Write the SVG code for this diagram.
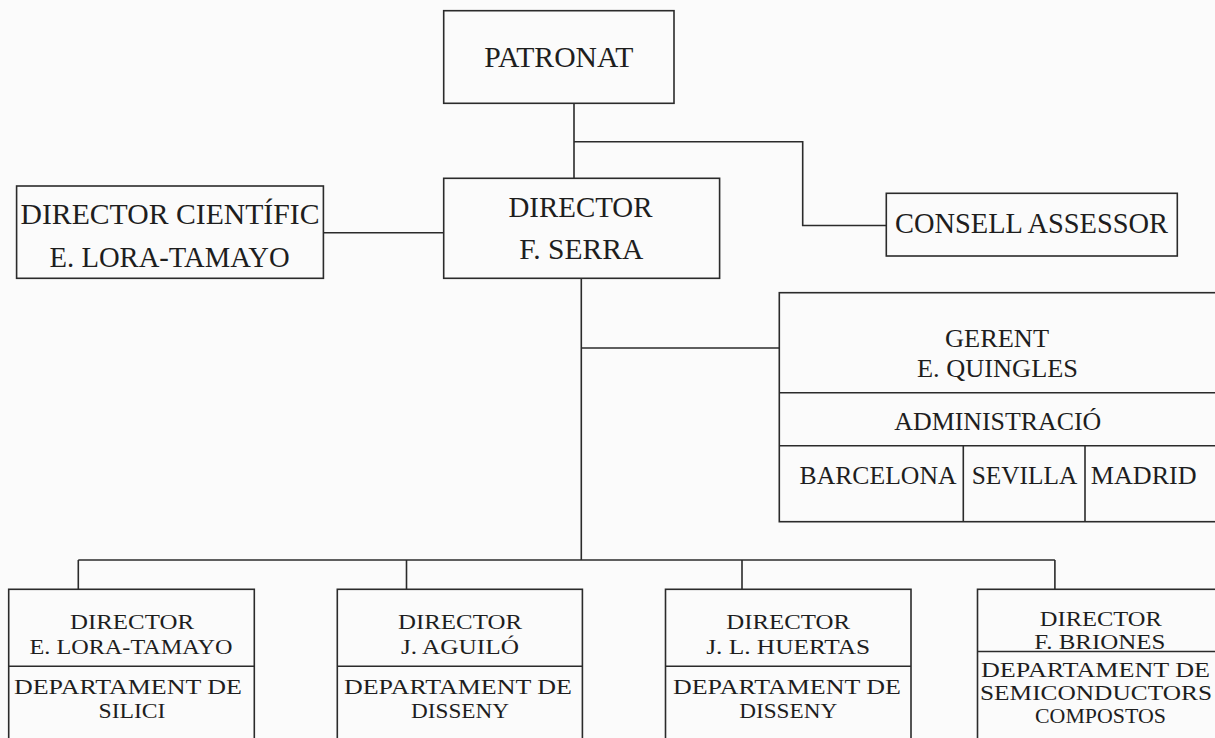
<svg xmlns="http://www.w3.org/2000/svg" width="1215" height="738" viewBox="0 0 1215 738">
<style>
.bx{fill:none;stroke:#2b2b2b;stroke-width:1.6}
.ln{fill:none;stroke:#2b2b2b;stroke-width:1.6}
text{font-family:"Liberation Serif","DejaVu Serif","Times New Roman",serif;fill:#1e1e1e;text-anchor:middle}
.t1{font-size:29px}
.t2{font-size:25px}
.t3{font-size:22px}
.t4{font-size:21px}
</style>
<rect width="1215" height="738" fill="#fbfbfb"/>
<g id="connectors">
<path class="ln" d="M574,103 V178"/>
<path class="ln" d="M574,141.7 H802.7 V225.5 H886.3"/>
<path class="ln" d="M323.4,232.7 H443.7"/>
<path class="ln" d="M581.3,278.3 V560"/>
<path class="ln" d="M581.3,348 H779.3"/>
<path class="ln" d="M78.3,560 H1054.9"/>
<path class="ln" d="M78.3,560 V589.3 M406.5,560 V589.3 M742,560 V589.3 M1054.9,560 V589.3"/>
</g>
<g id="patronat">
<rect class="bx" x="443.7" y="10.7" width="230.3" height="92.6"/>
<text class="t1" x="558.8" y="67" textLength="149" lengthAdjust="spacingAndGlyphs">PATRONAT</text>
</g>
<g id="director-cientific">
<rect class="bx" x="16.6" y="186" width="306.8" height="92.3"/>
<text class="t1" x="170" y="224" textLength="299" lengthAdjust="spacingAndGlyphs">DIRECTOR CIENTÍFIC</text>
<text class="t1" x="169.6" y="266.7" textLength="240" lengthAdjust="spacingAndGlyphs">E. LORA-TAMAYO</text>
</g>
<g id="director">
<rect class="bx" x="443.7" y="178.3" width="275.9" height="100"/>
<text class="t1" x="580.5" y="216.7" textLength="144" lengthAdjust="spacingAndGlyphs">DIRECTOR</text>
<text class="t1" x="581.3" y="259.3" textLength="124" lengthAdjust="spacingAndGlyphs">F. SERRA</text>
</g>
<g id="consell">
<rect class="bx" x="886.3" y="193.3" width="291" height="62.7"/>
<text class="t1" x="1031.5" y="233.3" textLength="273" lengthAdjust="spacingAndGlyphs">CONSELL ASSESSOR</text>
</g>
<g id="gerent">
<rect class="bx" x="779.3" y="292.7" width="440" height="229"/>
<path class="ln" d="M779.3,392.7 H1216 M779.3,445.7 H1216 M963.3,445.7 V521.7 M1085,445.7 V521.7"/>
<text class="t2" x="997" y="346.7" textLength="104" lengthAdjust="spacingAndGlyphs">GERENT</text>
<text class="t2" x="997.5" y="376.7" textLength="161" lengthAdjust="spacingAndGlyphs">E. QUINGLES</text>
<text class="t2" x="997.8" y="430" textLength="207" lengthAdjust="spacingAndGlyphs">ADMINISTRACIÓ</text>
<text class="t2" x="878" y="484" textLength="157" lengthAdjust="spacingAndGlyphs">BARCELONA</text>
<text class="t2" x="1024.5" y="484" textLength="105.6" lengthAdjust="spacingAndGlyphs">SEVILLA</text>
<text class="t2" x="1143.7" y="484" textLength="106" lengthAdjust="spacingAndGlyphs">MADRID</text>
</g>
<g id="dept-silici">
<rect class="bx" x="8.7" y="589.3" width="245.6" height="160"/>
<path class="ln" d="M8.7,666.3 H254.3"/>
<text class="t3" x="132" y="629" textLength="124" lengthAdjust="spacingAndGlyphs">DIRECTOR</text>
<text class="t3" x="131" y="653.5" textLength="203" lengthAdjust="spacingAndGlyphs">E. LORA-TAMAYO</text>
<text class="t3" x="128" y="693.5" textLength="228" lengthAdjust="spacingAndGlyphs">DEPARTAMENT DE</text>
<text class="t3" x="132" y="718" textLength="67" lengthAdjust="spacingAndGlyphs">SILICI</text>
</g>
<g id="dept-disseny-aguilo">
<rect class="bx" x="337.3" y="589.3" width="245.1" height="160"/>
<path class="ln" d="M337.3,666.3 H582.4"/>
<text class="t3" x="460" y="629" textLength="124" lengthAdjust="spacingAndGlyphs">DIRECTOR</text>
<text class="t3" x="460" y="653.5" textLength="118" lengthAdjust="spacingAndGlyphs">J. AGUILÓ</text>
<text class="t3" x="458" y="693.5" textLength="228" lengthAdjust="spacingAndGlyphs">DEPARTAMENT DE</text>
<text class="t3" x="460" y="718" textLength="98" lengthAdjust="spacingAndGlyphs">DISSENY</text>
</g>
<g id="dept-disseny-huertas">
<rect class="bx" x="665.5" y="589.3" width="245.5" height="160"/>
<path class="ln" d="M665.5,666.3 H911"/>
<text class="t3" x="788.2" y="629" textLength="124" lengthAdjust="spacingAndGlyphs">DIRECTOR</text>
<text class="t3" x="788.2" y="653.5" textLength="164" lengthAdjust="spacingAndGlyphs">J. L. HUERTAS</text>
<text class="t3" x="787" y="693.5" textLength="228" lengthAdjust="spacingAndGlyphs">DEPARTAMENT DE</text>
<text class="t3" x="788.2" y="718" textLength="98" lengthAdjust="spacingAndGlyphs">DISSENY</text>
</g>
<g id="dept-semiconductors">
<rect class="bx" x="977.5" y="589.3" width="245" height="160"/>
<path class="ln" d="M977.5,651.5 H1216"/>
<text class="t4" x="1100.8" y="626" textLength="122" lengthAdjust="spacingAndGlyphs">DIRECTOR</text>
<text class="t4" x="1099.8" y="649.3" textLength="131" lengthAdjust="spacingAndGlyphs">F. BRIONES</text>
<text class="t4" x="1095.5" y="676.5" textLength="229" lengthAdjust="spacingAndGlyphs">DEPARTAMENT DE</text>
<text class="t4" x="1096" y="699.8" textLength="232" lengthAdjust="spacingAndGlyphs">SEMICONDUCTORS</text>
<text class="t4" x="1100.5" y="723.1" textLength="131" lengthAdjust="spacingAndGlyphs">COMPOSTOS</text>
</g>
</svg>
